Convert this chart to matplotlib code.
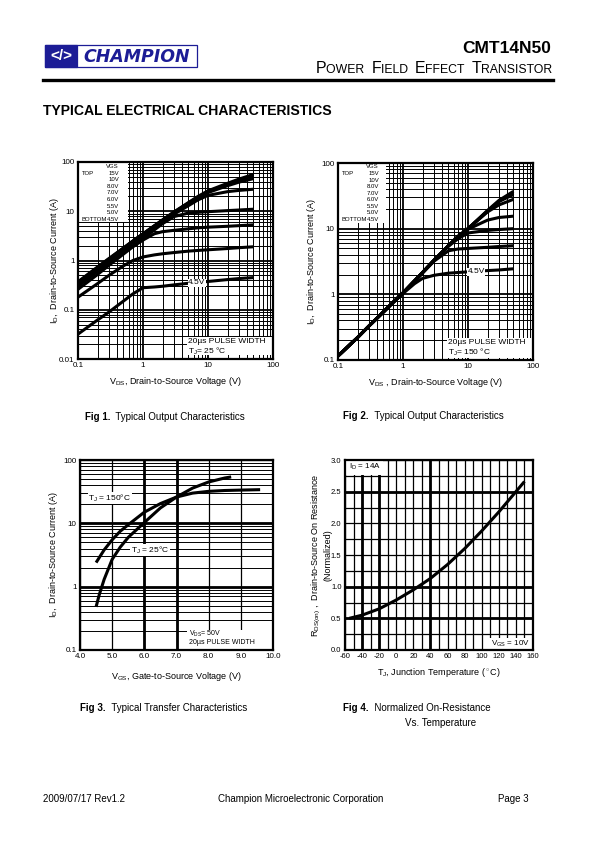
import matplotlib
matplotlib.use('Agg')
import matplotlib.pyplot as plt
from matplotlib.patches import Rectangle
from matplotlib.text import Annotation
from matplotlib.ticker import LogLocator, FuncFormatter, NullFormatter, MultipleLocator

plt.rcParams['font.family'] = ['Liberation Sans', 'DejaVu Sans']
plt.rcParams['mathtext.fontset'] = 'custom'
plt.rcParams['mathtext.rm'] = 'Liberation Sans'
plt.rcParams['mathtext.it'] = 'Liberation Sans:italic'
plt.rcParams['mathtext.bf'] = 'Liberation Sans:bold'
plt.rcParams['axes.unicode_minus'] = False

# ---- data ----
vgs_labels = ['15V', '10V', '8.0V', '7.0V', '6.0V', '5.5V', '5.0V', '4.5V']

# Fig 1: output characteristics, Tj = 25 C
vds_25 = [0.1, 0.2, 0.3, 0.5, 0.7, 1, 1.5, 2, 3, 5, 7, 10, 20, 30, 50]
id_25_15v = [0.37, 0.74, 1.1, 1.8, 2.5, 3.5, 5.1, 6.7, 9.7, 15, 20, 26, 37, 45, 56]
id_25_10v = [0.36, 0.72, 1.08, 1.77, 2.48, 3.45, 5.05, 6.6, 9.5, 14.7, 19.5, 25, 35, 43, 52]
id_25_8v = [0.35, 0.7, 1.05, 1.75, 2.45, 3.4, 5.0, 6.5, 9.4, 14.5, 19, 24, 33, 39, 46]
id_25_7v = [0.33, 0.66, 1.0, 1.65, 2.3, 3.2, 4.7, 6.1, 8.7, 13, 17, 21, 25, 26.5, 28]
id_25_6v = [0.3, 0.6, 0.9, 1.5, 2.0, 2.8, 4.2, 5.6, 7.8, 9.2, 9.5, 9.8, 10.3, 10.6, 11]
id_25_55v = [0.26, 0.52, 0.8, 1.35, 1.9, 2.6, 3.5, 3.85, 4.1, 4.4, 4.6, 4.75, 4.95, 5.1, 5.3]
id_25_5v = [0.18, 0.34, 0.5, 0.78, 1.0, 1.18, 1.3, 1.37, 1.45, 1.55, 1.6, 1.65, 1.75, 1.82, 1.9]
id_25_45v = [0.032, 0.062, 0.09, 0.15, 0.21, 0.28, 0.29, 0.3, 0.32, 0.345, 0.36, 0.375, 0.41, 0.43, 0.45]

# Fig 2: output characteristics, Tj = 150 C
vds_150 = [0.1, 0.2, 0.3, 0.5, 0.7, 1, 1.5, 2, 3, 5, 7, 10, 20, 30, 50]
id_150_15v = [0.115, 0.22, 0.33, 0.54, 0.75, 1.05, 1.6, 2.15, 3.3, 5.5, 7.6, 10, 19, 27, 37]
id_150_10v = [0.115, 0.22, 0.33, 0.54, 0.75, 1.05, 1.6, 2.15, 3.3, 5.5, 7.6, 10, 18.5, 26, 35]
id_150_8v = [0.115, 0.22, 0.33, 0.54, 0.75, 1.05, 1.6, 2.15, 3.3, 5.5, 7.6, 10, 18.5, 26, 33]
id_150_7v = [0.115, 0.22, 0.33, 0.54, 0.75, 1.05, 1.6, 2.15, 3.3, 5.5, 7.6, 10, 18, 23, 28]
id_150_6v = [0.115, 0.22, 0.33, 0.54, 0.75, 1.05, 1.6, 2.15, 3.3, 5.5, 7.5, 9.8, 13.5, 14.8, 15.5]
id_150_55v = [0.115, 0.22, 0.33, 0.54, 0.75, 1.05, 1.6, 2.15, 3.3, 5.4, 7.0, 8.6, 9.4, 9.7, 10]
id_150_5v = [0.115, 0.22, 0.33, 0.54, 0.75, 1.05, 1.55, 2.1, 3.2, 4.6, 4.9, 5.0, 5.2, 5.35, 5.5]
id_150_45v = [0.115, 0.22, 0.33, 0.54, 0.75, 1.03, 1.45, 1.75, 1.95, 2.1, 2.15, 2.2, 2.3, 2.35, 2.45]

# Fig 3: transfer characteristics
vgs_tj150 = [4.5, 4.75, 5.0, 5.25, 5.5, 6.0, 6.5, 7.0, 7.5, 8.0, 8.5, 9.0, 9.6]
id_tj150 = [2.4, 3.8, 5.5, 7.5, 9.5, 15, 20.5, 26, 30, 32, 33, 33.5, 34]
vgs_tj25 = [4.5, 4.6, 4.75, 5.0, 5.25, 5.5, 6.0, 6.5, 7.0, 7.5, 8.0, 8.5, 8.7]
id_tj25 = [0.48, 0.75, 1.3, 2.7, 4.2, 6.0, 10.3, 17.5, 26, 36, 45, 52, 54]

# Fig 4: normalized on-resistance vs temperature
tj = [-55, -40, -20, 0, 20, 40, 60, 80, 100, 120, 140, 150]
rds_norm = [0.5, 0.55, 0.65, 0.79, 0.95, 1.13, 1.35, 1.6, 1.88, 2.18, 2.5, 2.66]

W, H = 595, 842
fig = plt.figure(figsize=(W / 100, H / 100), dpi=100)


def ax_at(l, t, r, b):
    return fig.add_axes([l / W, 1 - b / H, (r - l) / W, (b - t) / H])


def ftxt(x, y, s, **kw):
    return fig.text(x / W, 1 - y / H, s, **kw)


def seq_text(parts, x, y):
    # pieces of text laid one after the other
    prev = ftxt(x, y, parts[0][0], va='bottom', ha='left', **parts[0][1])
    for s, kw in parts[1:]:
        prev = fig.add_artist(Annotation(s, xy=(1, 0), xycoords=prev, va='bottom', ha='left', **kw))
    return prev


def style(ax, tsize=5.8):
    ax.set_axisbelow(True)
    ax.tick_params(which='both', length=0, labelsize=tsize, pad=2.5, colors='black')
    for s in ax.spines.values():
        s.set_linewidth(1.6)


def log_axes(ax, xlim, ylim):
    ax.set_xscale('log')
    ax.set_yscale('log')
    ax.set_xlim(*xlim)
    ax.set_ylim(*ylim)
    for axis in (ax.xaxis, ax.yaxis):
        axis.set_major_locator(LogLocator(base=10, numticks=10))
        axis.set_minor_locator(LogLocator(base=10, subs=range(2, 10), numticks=10))
        axis.set_minor_formatter(NullFormatter())
        axis.set_major_formatter(FuncFormatter(lambda v, p: '%g' % v))
    ax.grid(True, which='major', color='black', lw=1.3)
    ax.grid(True, which='minor', color='black', lw=0.7)
    style(ax)


def white_box(ax, x0, y0, w, h):
    ax.add_patch(Rectangle((x0, y0), w, h, transform=ax.transAxes, fc='white', ec='none', zorder=1))


def vgs_legend(ax, top_off, step, h):
    rows = ['VGS'] + vgs_labels
    for i, s in enumerate(rows):
        y = 1 - (top_off + step * i) / h
        ax.text(0.21, y, s, transform=ax.transAxes, fontsize=4.3, ha='right', va='center', zorder=3)
    ax.text(0.02, 1 - (top_off + step) / h, 'TOP', transform=ax.transAxes, fontsize=4.3,
            va='center', zorder=3)
    ax.text(0.02, 1 - (top_off + step * 8) / h, 'BOTTOM', transform=ax.transAxes, fontsize=4.3,
            va='center', zorder=3)


curve_kw = dict(color='black', lw=2.2, solid_capstyle='butt', zorder=2)

# ---- header ----
logo = ax_at(45, 45, 197, 67)
logo.set_xlim(0, 152)
logo.set_ylim(0, 22)
logo.axis('off')
blue = '#1c1c96'
logo.add_patch(Rectangle((0, 0), 152, 22, fc='white', ec=blue, lw=0.9, clip_on=False))
logo.add_patch(Rectangle((0, 0), 31.5, 22, fc=blue, ec=blue, lw=0.9, clip_on=False))
logo.text(16, 11, '</>', color='white', fontsize=11, fontweight='bold', ha='center', va='center')
logo.text(92, 10.5, 'CHAMPION', color=blue, fontsize=12.5, fontweight='heavy', style='italic',
          ha='center', va='center', family='DejaVu Sans')

ftxt(551, 53, 'CMT14N50', fontsize=12.5, fontweight='bold', ha='right', va='baseline')
big, small = dict(fontsize=11.4), dict(fontsize=8.8)
seq_text([('P', big), ('OWER  ', small), ('F', big), ('IELD  ', small), ('E', big),
          ('FFECT  ', small), ('T', big), ('RANSISTOR', small)], 316, 76)
fig.add_artist(plt.Line2D([43 / W, 553 / W], [1 - 80 / H, 1 - 80 / H], color='black', lw=2.4))
ftxt(43, 115, 'TYPICAL ELECTRICAL CHARACTERISTICS', fontsize=10.1, fontweight='bold', va='baseline')

# ---- Fig 1 ----
ax1 = ax_at(78, 162, 273, 359)
log_axes(ax1, (0.1, 100), (0.01, 100))
white_box(ax1, 0, 0.695, 0.256, 0.305)
for ids in [id_25_15v, id_25_10v, id_25_8v, id_25_7v, id_25_6v, id_25_55v, id_25_5v, id_25_45v]:
    ax1.plot(vds_25, ids, **curve_kw)
vgs_legend(ax1, 4.5, 6.6, 197)
white_box(ax1, 0.557, 0.02, 0.443, 0.093)
ax1.text(0.565, 0.088, '20\u00b5s PULSE WIDTH', transform=ax1.transAxes, fontsize=6, va='center', zorder=3)
ax1.text(0.565, 0.04, 'T$_\\mathrm{J}$= 25 \u00b0C', transform=ax1.transAxes, fontsize=6, va='center', zorder=3)
ax1.text(0.61, 0.386, '4.5V', transform=ax1.transAxes, fontsize=6, ha='center', va='center', zorder=3,
         bbox=dict(fc='white', ec='none', pad=0.3))
ax1.set_ylabel('I$_\\mathrm{D}$,  Drain-to-Source Current (A)', fontsize=6.5)
ax1.yaxis.set_label_coords(-0.085, 0.5)
ax1.set_xlabel('V$_\\mathrm{DS}$, Drain-to-Source Voltage (V)', fontsize=6.5)
ax1.xaxis.set_label_coords(0.5, -0.08)
seq_text([('Fig 1.', dict(fontsize=7, fontweight='bold')),
          ('  Typical Output Characteristics', dict(fontsize=7))], 85, 422)

# ---- Fig 2 ----
ax2 = ax_at(338, 163, 533, 360)
log_axes(ax2, (0.1, 100), (0.1, 100))
white_box(ax2, 0, 0.697, 0.246, 0.303)
for ids in [id_150_15v, id_150_10v, id_150_8v, id_150_7v, id_150_6v, id_150_55v, id_150_5v, id_150_45v]:
    ax2.plot(vds_150, ids, **curve_kw)
vgs_legend(ax2, 3.8, 6.6, 197)
white_box(ax2, 0.557, 0.01, 0.443, 0.1)
ax2.text(0.565, 0.088, '20\u00b5s PULSE WIDTH', transform=ax2.transAxes, fontsize=6, va='center', zorder=3)
ax2.text(0.565, 0.04, 'T$_\\mathrm{J}$= 150 \u00b0C', transform=ax2.transAxes, fontsize=6, va='center', zorder=3)
ax2.text(0.708, 0.447, '4.5V', transform=ax2.transAxes, fontsize=6, ha='center', va='center', zorder=3,
         bbox=dict(fc='white', ec='none', pad=0.3))
ax2.set_ylabel('I$_\\mathrm{D}$,  Drain-to-Source Current (A)', fontsize=6.5)
ax2.yaxis.set_label_coords(-0.105, 0.5)
ax2.set_xlabel('V$_\\mathrm{DS}$ , Drain-to-Source Voltage (V)', fontsize=6.5)
ax2.xaxis.set_label_coords(0.5, -0.08)
seq_text([('Fig 2.', dict(fontsize=7, fontweight='bold')),
          ('  Typical Output Characteristics', dict(fontsize=7))], 343, 421)

# ---- Fig 3 ----
ax3 = ax_at(80, 460, 273, 650)
ax3.set_yscale('log')
ax3.set_xlim(4, 10)
ax3.set_ylim(0.1, 100)
ax3.xaxis.set_major_locator(MultipleLocator(1))
ax3.xaxis.set_major_formatter(FuncFormatter(lambda v, p: '%.1f' % v))
ax3.yaxis.set_major_locator(LogLocator(base=10, numticks=10))
ax3.yaxis.set_minor_locator(LogLocator(base=10, subs=range(2, 10), numticks=10))
ax3.yaxis.set_minor_formatter(NullFormatter())
ax3.yaxis.set_major_formatter(FuncFormatter(lambda v, p: '%g' % v))
ax3.grid(True, which='major', color='black', lw=0.9)
ax3.grid(True, which='minor', axis='y', color='black', lw=0.7)
for v in (6, 7):
    ax3.axvline(v, color='black', lw=2.0, zorder=0.6)
for v in (1, 10):
    ax3.axhline(v, color='black', lw=2.0, zorder=0.6)
style(ax3)
ax3.plot(vgs_tj150, id_tj150, **curve_kw)
ax3.plot(vgs_tj25, id_tj25, **curve_kw)
ax3.text(0.155, 0.8, 'T$_\\mathrm{J}$ = 150\u00b0C', transform=ax3.transAxes, fontsize=6, ha='center',
         va='center', zorder=3, bbox=dict(fc='white', ec='none', pad=0.5))
ax3.text(0.363, 0.526, 'T$_\\mathrm{J}$ = 25\u00b0C', transform=ax3.transAxes, fontsize=6, ha='center',
         va='center', zorder=3, bbox=dict(fc='white', ec='none', pad=0.5))
white_box(ax3, 0.553, 0.0, 0.447, 0.105)
ax3.text(0.565, 0.084, 'V$_\\mathrm{DS}$= 50V', transform=ax3.transAxes, fontsize=5, va='center', zorder=3)
ax3.text(0.565, 0.037, '20\u00b5s PULSE WIDTH', transform=ax3.transAxes, fontsize=5, va='center', zorder=3)
ax3.set_ylabel('I$_\\mathrm{D}$,  Drain-to-Source Current (A)', fontsize=6.5)
ax3.yaxis.set_label_coords(-0.106, 0.5)
ax3.set_xlabel('V$_\\mathrm{GS}$, Gate-to-Source Voltage (V)', fontsize=6.5)
ax3.xaxis.set_label_coords(0.5, -0.105)
seq_text([('Fig 3.', dict(fontsize=7, fontweight='bold')),
          ('  Typical Transfer Characteristics', dict(fontsize=7))], 80, 713)

# ---- Fig 4 ----
ax4 = ax_at(345, 460, 533, 650)
ax4.set_xlim(-60, 160)
ax4.set_ylim(0, 3)
ax4.xaxis.set_major_locator(MultipleLocator(20))
ax4.xaxis.set_minor_locator(MultipleLocator(10))
ax4.yaxis.set_major_locator(MultipleLocator(0.5))
ax4.yaxis.set_minor_locator(MultipleLocator(0.25))
ax4.yaxis.set_major_formatter(FuncFormatter(lambda v, p: '%.1f' % v))
ax4.grid(True, which='both', color='black', lw=0.9)
for v in (-40, -20, 40):
    ax4.axvline(v, color='black', lw=2.0, zorder=0.6)
for v in (0.5, 1.0, 2.5):
    ax4.axhline(v, color='black', lw=2.0, zorder=0.6)
style(ax4, 5.5)
ax4.plot(tj, rds_norm, **curve_kw)
white_box(ax4, 0, 0.92, 0.2, 0.08)
ax4.text(0.02, 0.963, 'I$_\\mathrm{D}$ = 14A', transform=ax4.transAxes, fontsize=5.8, va='center', zorder=3)
white_box(ax4, 0.745, 0, 0.255, 0.065)
ax4.text(0.985, 0.032, 'V$_\\mathrm{GS}$ = 10V', transform=ax4.transAxes, fontsize=5.8, ha='right',
         va='center', zorder=3)
ax4.text(-0.127, 0.5, 'R$_\\mathrm{DS(on)}$ ,  Drain-to-Source On Resistance\n(Normalized)',
         transform=ax4.transAxes, rotation=90, fontsize=6.5, ha='center', va='center',
         multialignment='center', linespacing=1.1)
ax4.set_xlabel('T$_\\mathrm{J}$, Junction Temperature ($^\\circ$C)', fontsize=6.5)
ax4.xaxis.set_label_coords(0.5, -0.084)
seq_text([('Fig 4.', dict(fontsize=7, fontweight='bold')),
          ('  Normalized On-Resistance', dict(fontsize=7))], 343, 713)
ftxt(441, 726, 'Vs. Temperature', fontsize=7, ha='center', va='baseline')

# ---- footer ----
ftxt(43, 802, '2009/07/17 Rev1.2', fontsize=7, va='baseline')
ftxt(301, 802, 'Champion Microelectronic Corporation', fontsize=7, ha='center', va='baseline')
ftxt(498, 802, 'Page 3', fontsize=7, va='baseline')

fig.savefig('out.png', dpi=100, facecolor='white')
